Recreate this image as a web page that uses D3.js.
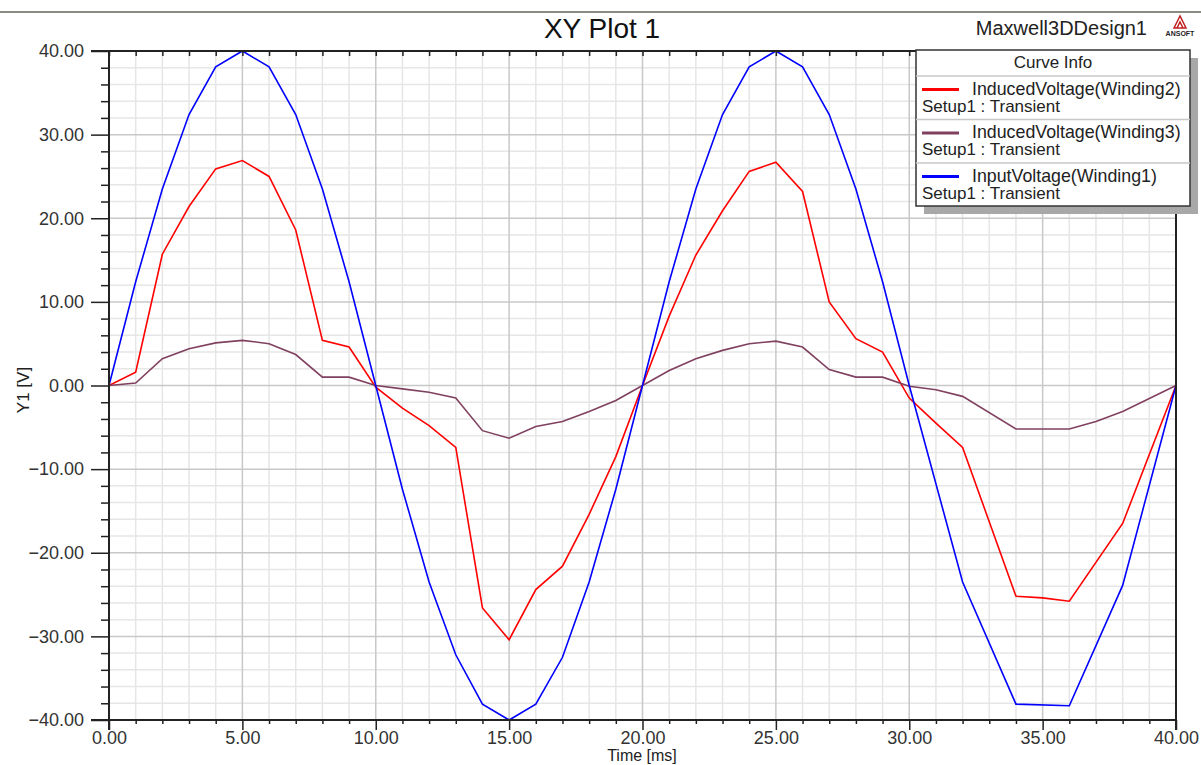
<!DOCTYPE html>
<html>
<head>
<meta charset="utf-8">
<script src="https://cdn.jsdelivr.net/npm/d3@7"></script>
<style>
  html, body { margin: 0; padding: 0; background: #fff; overflow: hidden; }
  svg { display: block; font-family: "Liberation Sans", Arial, sans-serif; }
</style>
</head>
<body>
<svg id="chart" width="1201" height="765"></svg>
<script>
// ---- data ----
const title = "XY Plot 1";
const designName = "Maxwell3DDesign1";
const xLabel = "Time [ms]";
const yLabel = "Y1 [V]";

const xTicks = [0, 5, 10, 15, 20, 25, 30, 35, 40];
const yTicks = [-40, -30, -20, -10, 0, 10, 20, 30, 40];

// InducedVoltage(Winding2)
const timeW2 = [0,1,2,3,4,5,6,7,8,9,10,11,12,13,14,15,16,17,18,19,20,21,22,23,24,25,26,27,28,29,30,31,32,34,35,36,38,40];
const voltW2 = [0,1.6,15.7,21.4,25.9,26.9,25.0,18.6,5.4,4.6,-0.2,-2.7,-4.8,-7.4,-26.6,-30.4,-24.4,-21.6,-15.4,-8.5,0,8.3,15.6,20.9,25.6,26.7,23.2,10.0,5.6,4.0,-1.5,-4.5,-7.4,-25.2,-25.4,-25.8,-16.5,0];

// InducedVoltage(Winding3)
const timeW3 = [0,1,2,3,4,5,6,7,8,9,10,11,12,13,14,15,16,17,18,19,20,21,22,23,24,25,26,27,28,29,30,31,32,34,36,37,38,40];
const voltW3 = [0,0.3,3.2,4.4,5.1,5.4,5.0,3.7,1.0,1.0,0,-0.4,-0.8,-1.5,-5.4,-6.3,-4.9,-4.3,-3.1,-1.8,0,1.8,3.2,4.2,5.0,5.3,4.6,1.9,1.0,1.0,-0.1,-0.5,-1.3,-5.2,-5.2,-4.3,-3.1,0];

// InputVoltage(Winding1)
const timeW1 = [0,1,2,3,4,5,6,7,8,9,10,11,12,13,14,15,16,17,18,19,20,21,22,23,24,25,26,27,28,29,30,32,34,36,38,40];
const voltW1 = [0,12.4,23.5,32.4,38.1,40.0,38.1,32.4,23.5,12.4,0,-12.4,-23.5,-32.2,-38.1,-40.0,-38.1,-32.5,-23.5,-12.4,0,12.4,23.5,32.4,38.1,40.0,38.1,32.4,23.5,12.4,0,-23.5,-38.1,-38.3,-23.9,0];

const seriesNames = ["InducedVoltage(Winding2)", "InducedVoltage(Winding3)", "InputVoltage(Winding1)"];
const seriesSetup = "Setup1 : Transient";
const seriesColors = ["#ff0000", "#804060", "#0000ff"];

const series = [
  { name: seriesNames[0], color: seriesColors[0], t: timeW2, v: voltW2 },
  { name: seriesNames[1], color: seriesColors[1], t: timeW3, v: voltW3 },
  { name: seriesNames[2], color: seriesColors[2], t: timeW1, v: voltW1 }
];

// ---- layout ----
const plotLeft = 109, plotRight = 1176, plotTop = 51, plotBottom = 720;
const svg = d3.select("#chart");

const x = d3.scaleLinear().domain([0, 40]).range([plotLeft, plotRight]);
const y = d3.scaleLinear().domain([-40, 40]).range([plotBottom, plotTop]);

// top rule and header texts
svg.append("line")
  .attr("x1", 0).attr("x2", 1201).attr("y1", 12).attr("y2", 12)
  .style("stroke", "#8a8a80").style("stroke-width", 2);

svg.append("text")
  .attr("x", 602).attr("y", 38)
  .attr("text-anchor", "middle")
  .style("font-size", "28px").style("fill", "#111")
  .text(title);

svg.append("text")
  .attr("x", 1147).attr("y", 35)
  .attr("text-anchor", "end")
  .style("font-size", "20px").style("fill", "#222")
  .text(designName);

// little Ansoft logo
var logo = svg.append("g").attr("transform", "translate(1180,16)");
logo.append("path").attr("d", "M0,0 L-6,12 L6,12 Z").style("fill", "none").style("stroke", "#c02020").style("stroke-width", 1.5);
logo.append("path").attr("d", "M-3,12 L0,6 L3,12").style("fill", "none").style("stroke", "#c02020").style("stroke-width", 1.5);
logo.append("text").attr("x", 0).attr("y", 20).attr("text-anchor", "middle")
  .style("font-size", "7px").style("font-weight", "bold").style("fill", "#222").text("ANSOFT");

// grid
var grid = svg.append("g");
grid.selectAll(".vminor").data(d3.range(0, 41, 1).filter(d => d % 5 != 0)).enter().append("line")
  .attr("x1", d => x(d)).attr("x2", d => x(d)).attr("y1", plotTop).attr("y2", plotBottom)
  .style("stroke", "#e6e6e6").style("stroke-width", 1.5);
grid.selectAll(".hminor").data(d3.range(-40, 41, 2).filter(d => d % 10 != 0)).enter().append("line")
  .attr("x1", plotLeft).attr("x2", plotRight).attr("y1", d => y(d)).attr("y2", d => y(d))
  .style("stroke", "#e6e6e6").style("stroke-width", 1.5);
grid.selectAll(".vmajor").data(xTicks).enter().append("line")
  .attr("x1", d => x(d)).attr("x2", d => x(d)).attr("y1", plotTop).attr("y2", plotBottom)
  .style("stroke", "#c8c8c8").style("stroke-width", 1.5);
grid.selectAll(".hmajor").data(yTicks).enter().append("line")
  .attr("x1", plotLeft).attr("x2", plotRight).attr("y1", d => y(d)).attr("y2", d => y(d))
  .style("stroke", "#c8c8c8").style("stroke-width", 1.5);

// curves
var line = d3.line()
  .x(d => x(d[0]))
  .y(d => y(d[1]));

series.forEach(function (s) {
  svg.append("path")
    .datum(d3.zip(s.t, s.v))
    .style("fill", "none")
    .style("stroke", s.color)
    .style("stroke-width", 1.6)
    .attr("d", line);
});

// axes (frame + ticks)
var axisColor = "#222";
var leftAxis = svg.append("g").attr("transform", "translate(" + plotLeft + ",0)")
  .call(d3.axisLeft(y).tickValues(d3.range(-40, 41, 2).filter(d => d % 10 != 0)).tickSize(8).tickFormat(""));
var leftMajor = svg.append("g").attr("transform", "translate(" + plotLeft + ",0)")
  .call(d3.axisLeft(y).tickValues(yTicks).tickSize(18).tickPadding(7).tickFormat(d3.format(".2f")));
var bottomAxis = svg.append("g").attr("transform", "translate(0," + plotBottom + ")")
  .call(d3.axisBottom(x).tickValues(d3.range(0, 41, 1).filter(d => d % 5 != 0)).tickSize(4).tickFormat(""));
var bottomMajor = svg.append("g").attr("transform", "translate(0," + plotBottom + ")")
  .call(d3.axisBottom(x).tickValues(xTicks).tickSize(10).tickPadding(4).tickFormat(d3.format(".2f")));
var topAxis = svg.append("g").attr("transform", "translate(0," + plotTop + ")")
  .call(d3.axisBottom(x).tickValues(d3.range(0, 41, 1)).tickSize(5).tickFormat(""));

[leftAxis, leftMajor, bottomAxis, bottomMajor, topAxis].forEach(function (g) {
  g.select(".domain").remove();
  g.selectAll(".tick line").style("stroke", axisColor).style("stroke-width", 1.5);
  g.selectAll(".tick text").style("font-family", "Liberation Sans, Arial, sans-serif")
    .style("font-size", "18px").style("fill", "#333");
});
bottomMajor.selectAll(".tick text").attr("y", 11);

// frame lines
svg.append("line").attr("x1", plotLeft).attr("x2", plotLeft).attr("y1", plotTop).attr("y2", plotBottom + 10)
  .style("stroke", axisColor).style("stroke-width", 2);
svg.append("line").attr("x1", plotRight).attr("x2", plotRight).attr("y1", plotTop).attr("y2", plotBottom + 10)
  .style("stroke", axisColor).style("stroke-width", 2);
svg.append("line").attr("x1", plotLeft - 18).attr("x2", plotRight).attr("y1", plotBottom).attr("y2", plotBottom)
  .style("stroke", axisColor).style("stroke-width", 2);
svg.append("line").attr("x1", plotLeft - 18).attr("x2", plotRight).attr("y1", plotTop).attr("y2", plotTop)
  .style("stroke", axisColor).style("stroke-width", 2);

// axis titles
svg.append("text")
  .attr("x", 642).attr("y", 761)
  .attr("text-anchor", "middle")
  .style("font-size", "16px").style("fill", "#222")
  .text(xLabel);
svg.append("text")
  .attr("transform", "translate(29,390) rotate(-90)")
  .attr("text-anchor", "middle")
  .style("font-size", "17px").style("fill", "#222")
  .text(yLabel);

// legend "Curve Info"
var lg = svg.append("g").attr("transform", "translate(916,50)");
var lgW = 274, lgH = 156, headH = 26, rowH = 43.5;
lg.append("rect").attr("x", 8).attr("y", 8).attr("width", lgW).attr("height", lgH).style("fill", "#a8a8a8");
lg.append("rect").attr("x", 0).attr("y", 0).attr("width", lgW).attr("height", lgH)
  .style("fill", "#fff").style("stroke", "#333").style("stroke-width", 1.5);
lg.append("text").attr("x", lgW / 2).attr("y", 18).attr("text-anchor", "middle")
  .style("font-size", "17px").style("fill", "#222").text("Curve Info");

series.forEach(function (s, i) {
  var top = headH + i * rowH;
  lg.append("line").attr("x1", 0).attr("x2", lgW).attr("y1", top).attr("y2", top)
    .style("stroke", "#c8c8c8").style("stroke-width", 1.5);
  lg.append("line").attr("x1", 6).attr("x2", 43).attr("y1", top + 13.5).attr("y2", top + 13.5)
    .style("stroke", s.color).style("stroke-width", 3);
  lg.append("text").attr("x", 56).attr("y", top + 18.5)
    .style("font-size", "17.8px").style("fill", "#222").text(s.name);
  lg.append("text").attr("x", 6).attr("y", top + 35.5)
    .style("font-size", "17px").style("fill", "#222").text(seriesSetup);
});
</script>
</body>
</html>
